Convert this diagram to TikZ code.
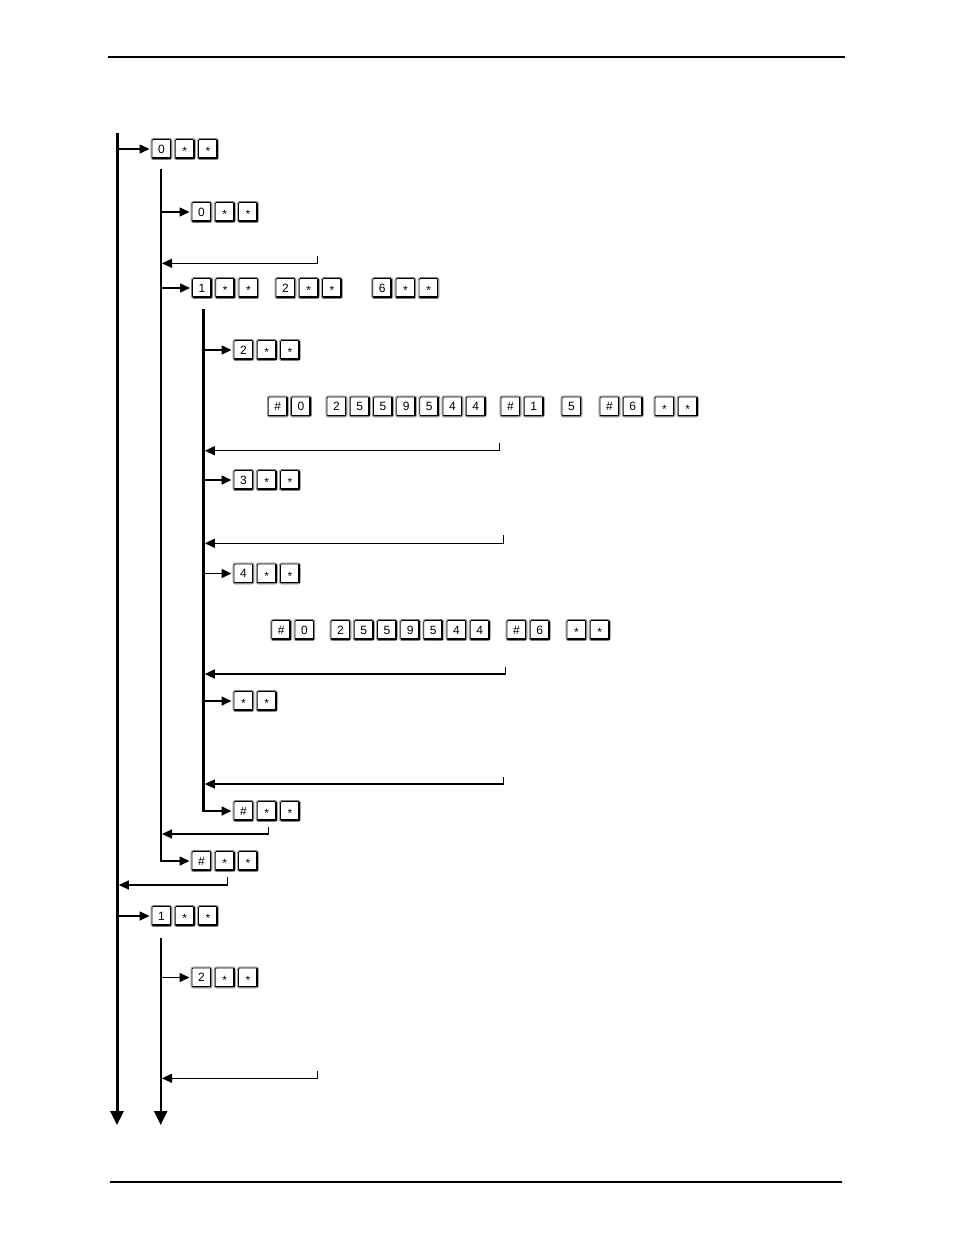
\documentclass[tikz,border=0pt]{standalone}
\usepackage{fontspec}
\setmainfont{Liberation Sans}
\usetikzlibrary{arrows.meta}
\newcommand\ks{\raisebox{-2.6pt}{*}}
\tikzset{
 kbox/.style={draw=black!50, line width=0.6pt, rounded corners=2pt, minimum width=21pt, minimum height=21pt, inner sep=0pt, text height=8.4pt, text depth=0pt, font=\fontsize{12}{12}\selectfont, fill=white},
 kinner/.style={draw=black, line width=0.7pt, rounded corners=1.2pt},
 kshade/.style={draw=black, line width=1.7pt, line cap=round},
 spinezero/.style={line width=3pt},
 spine/.style={line width=2.4pt},
 branch/.style={line width=1.6pt, -{Triangle[length=10pt,width=9pt]}, shorten >=1.2pt},
 back/.style={line width=1.2pt, -{Triangle[length=10pt,width=9pt]}},
 downtip/.style={-{Triangle[length=14pt,width=13pt]}},
 rule/.style={line width=2.2pt}
}
\newcommand\kkey[4]{%
  \node[kbox] (#1) at ({#2+10.5},#3) {#4};
  \draw[kinner] ([xshift=1.3pt,yshift=1.3pt]#1.south west) rectangle ([xshift=-1.3pt,yshift=-1.3pt]#1.north east);
  \draw[kshade] ([xshift=2.2pt,yshift=1.8pt]#1.south west) -- ([xshift=-1.8pt,yshift=1.8pt]#1.south east) -- ([xshift=-1.8pt,yshift=-2.2pt]#1.north east);
}
\newcommand\krow[4]{%
  \foreach \lab [count=\i] in {#4} {
    \kkey{#1-\i}{#2+(\i-1)*23.2}{#3}{\lab}
  }
}
\begin{document}
\begin{tikzpicture}[x=1pt,y=-1pt]
\useasboundingbox (0,0) rectangle (954,1235);
% page rules
\coordinate (ruleTL) at (108,57); \coordinate (ruleTR) at (845,57);
\coordinate (ruleBL) at (110,1182); \coordinate (ruleBR) at (842,1182);
\draw[rule] (ruleTL) -- (ruleTR);
\draw[line width=1.8pt] (ruleBL) -- (ruleBR);

% ---------- level 0 spine ----------
\coordinate (v0top) at (117,133); \coordinate (v0bot) at (117,1125);
\draw[spinezero,downtip] (v0top) -- (v0bot);

\krow{ka}{151}{149}{0,\ks,\ks}
\coordinate (ba) at (117,149);
\draw[branch] (ba) -- (ka-1.west);

\coordinate (r0t) at (227.3,877); \coordinate (r0v) at (118.8,885);
\draw[back] (r0t) |- (r0v);

\krow{kb}{151}{916}{1,\ks,\ks}
\coordinate (bb) at (117,916);
\draw[branch] (bb) -- (kb-1.west);

% ---------- level 1 spine (a) ----------
\coordinate (v1atop) at (160.7,169); \coordinate (v1abot) at (160.7,861.8);
\draw[spine] (v1atop) -- (v1abot);

\krow{kc}{191}{212}{0,\ks,\ks}
\coordinate (bc) at (160.7,212);
\draw[branch] (bc) -- (kc-1.west);

\coordinate (r1t) at (317.3,255.5); \coordinate (r1v) at (162,263.3);
\draw[back] (r1t) |- (r1v);

\krow{kd}{191.5}{288}{1,\ks,\ks}
\krow{ke}{275}{288}{2,\ks,\ks}
\krow{kf}{371.7}{288}{6,\ks,\ks}
\coordinate (bd) at (160.7,288);
\draw[branch] (bd) -- (kd-1.west);

\coordinate (r2t) at (268.3,827.3); \coordinate (r2v) at (162,834);
\draw[back] (r2t) |- (r2v);

\krow{kg}{191}{861}{\#,\ks,\ks}
\coordinate (bg) at (159.5,861);
\draw[branch] (bg) -- (kg-1.west);

% ---------- level 2 spine ----------
\coordinate (v2top) at (203.5,309); \coordinate (v2bot) at (203.5,811.8);
\draw[spine,line width=2.2pt] (v2top) -- (v2bot);

\krow{kh}{233}{350}{2,\ks,\ks}
\coordinate (bh) at (203.5,350);
\draw[branch] (bh) -- (kh-1.west);

\krow{sa}{267.3}{406.5}{\#,0}
\krow{sb}{326}{406.5}{2,5,5,9,5,4,4}
\krow{sc}{500}{406.5}{\#,1}
\krow{sd}{561}{406.5}{5}
\krow{se}{599}{406.5}{\#,6}
\krow{sf}{654}{406.5}{\ks,\ks}

\coordinate (r3t) at (499.5,442.7); \coordinate (r3v) at (204.8,450.7);
\draw[back] (r3t) |- (r3v);

\krow{ki}{233}{480}{3,\ks,\ks}
\coordinate (bi) at (203.5,480);
\draw[branch] (bi) -- (ki-1.west);

\coordinate (r4t) at (503.3,535); \coordinate (r4v) at (204.8,543.3);
\draw[back] (r4t) |- (r4v);

\krow{kj}{233}{573.5}{4,\ks,\ks}
\coordinate (bj) at (203.5,573.5);
\draw[branch] (bj) -- (kj-1.west);

\krow{ta}{270.7}{630}{\#,0}
\krow{tb}{330}{630}{2,5,5,9,5,4,4}
\krow{tc}{506}{630}{\#,6}
\krow{td}{566}{630}{\ks,\ks}

\coordinate (r5t) at (505.3,666.7); \coordinate (r5v) at (204.8,674);
\draw[back] (r5t) |- (r5v);

\krow{kk}{233}{701}{\ks,\ks}
\coordinate (bk) at (203.5,701);
\draw[branch] (bk) -- (kk-1.west);

\coordinate (r6t) at (503.3,776.7); \coordinate (r6v) at (204.8,784);
\draw[back] (r6t) |- (r6v);

\krow{kl}{233}{811}{\#,\ks,\ks}
\coordinate (bl) at (202.4,811);
\draw[branch] (bl) -- (kl-1.west);

% ---------- level 1 spine (b) ----------
\coordinate (v1btop) at (160.7,937.7); \coordinate (v1bbot) at (160.7,1125);
\draw[spine,downtip] (v1btop) -- (v1bbot);

\krow{km}{191}{977.5}{2,\ks,\ks}
\coordinate (bm) at (160.7,977.5);
\draw[branch] (bm) -- (km-1.west);

\coordinate (r7t) at (317.3,1071); \coordinate (r7v) at (162,1078.3);
\draw[back] (r7t) |- (r7v);
\end{tikzpicture}
\end{document}
